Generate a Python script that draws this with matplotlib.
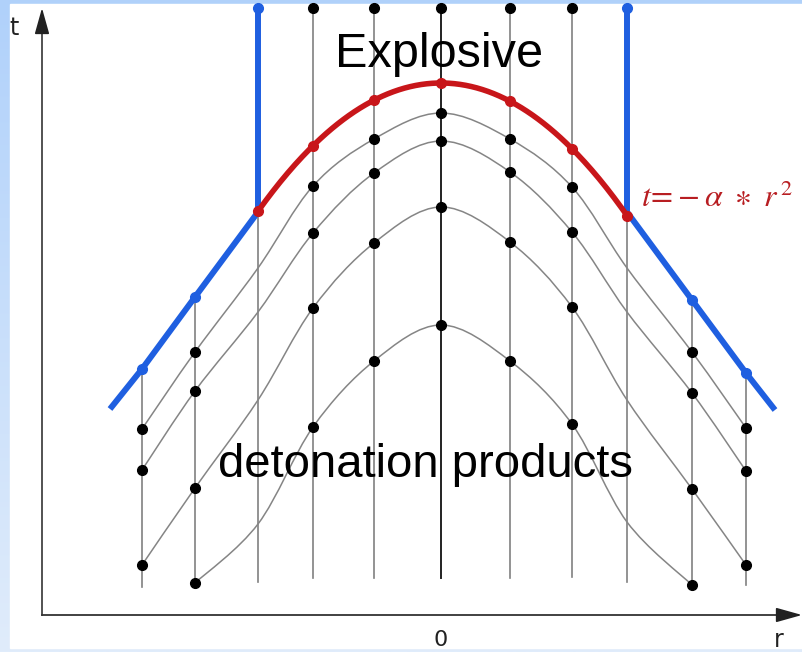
import numpy as np
import matplotlib
matplotlib.use("Agg")
import matplotlib.pyplot as plt
from matplotlib.path import Path
from matplotlib.patches import PathPatch, Rectangle

# column positions r of the Lagrangian mesh lines
r_cols = [-2.99, -2.46, -1.83, -1.28, -0.67, 0.0, 0.69, 1.31, 1.86, 2.51, 3.05]
# upper / lower end of every column line (t)
col_top = [2.46, 3.18, 4.03, 6.07, 6.07, 6.07, 6.07, 6.07, 4.03, 3.15, 2.42]
col_bottom = [0.28, 0.32, 0.33, 0.37, 0.37, 0.37, 0.37, 0.38, 0.33, 0.30, 0.30]

# characteristic layers inside the detonation products (t at each column)
nan = np.nan
layer1 = [1.86, 2.63, 3.47, 4.29, 4.76, 5.02, 4.76, 4.28, 3.47, 2.63, 1.87]
layer2 = [1.45, 2.24, 3.03, 3.82, 4.42, 4.74, 4.43, 3.83, 3.03, 2.22, 1.44]
layer3 = [0.50, 1.27, 2.15, 3.07, 3.72, 4.08, 3.73, 3.08, 2.15, 1.26, 0.50]
layer4 = [nan, 0.32, 0.91, 1.88, 2.54, 2.90, 2.54, 1.91, 0.93, 0.30, nan]
layers = [layer1, layer2, layer3, layer4]
junction_cols = [2, 8]

# shock front, left and right branches (r, t)
blue_left_r = [-3.31, -2.99, -2.46, -1.83, -1.83]
blue_left_t = [2.06, 2.46, 3.18, 4.03, 6.07]
blue_right_r = [3.34, 3.05, 2.51, 1.86, 1.86]
blue_right_t = [2.05, 2.42, 3.15, 4.03, 6.07]

# detonation front t = t0 - alpha * r^2
t0 = 5.32
alpha = 0.383

fig = plt.figure(figsize=(8.02, 6.52), dpi=100)

# light blue frame with a vertical gradient
bg = fig.add_axes([0, 0, 1, 1], zorder=0)
top_c = np.array([176, 209, 250]) / 255
bot_c = np.array([224, 236, 251]) / 255
k = np.linspace(0, 1, 256)[:, None, None]
grad = top_c * (1 - k) + bot_c * k
bg.imshow(grad, aspect="auto", extent=[0, 1, 0, 1])
bg.add_patch(Rectangle((10 / 802, 4 / 652), 1, 644 / 652, color="white"))
bg.set_xlim(0, 1)
bg.set_ylim(0, 1)
bg.axis("off")

ax = fig.add_axes([0, 0, 1, 1], zorder=1)
ax.patch.set_alpha(0)
ax.set_xlim(-4.41, 3.61)
ax.set_ylim(-0.37, 6.15)
ax.axis("off")


def smooth_path(r, t):
    pts = np.column_stack([r, t])
    verts = [pts[0]]
    codes = [Path.MOVETO]
    n = len(pts)
    for i in range(n - 1):
        p0 = pts[max(i - 1, 0)]
        p1 = pts[i]
        p2 = pts[i + 1]
        p3 = pts[min(i + 2, n - 1)]
        verts += [p1 + (p2 - p0) / 6, p2 - (p3 - p1) / 6, p2]
        codes += [Path.CURVE4] * 3
    return Path(verts, codes)


# axes with arrows
r_axis, r_end, t_end = -3.99, 3.61, 6.07
ax.plot([r_axis, r_axis], [0, t_end - 0.1], color="#444444", lw=1.3, zorder=2)
ax.plot([r_axis, r_end - 0.1], [0, 0], color="#333333", lw=1.3, zorder=2)
ax.annotate("", xy=(r_axis, t_end), xytext=(r_axis, t_end - 0.2),
            arrowprops=dict(arrowstyle="-|>,head_length=1.0,head_width=0.28",
                            color="#222222", lw=1.2, shrinkA=0, shrinkB=0,
                            mutation_scale=16))
ax.annotate("", xy=(r_end, 0), xytext=(r_end - 0.2, 0),
            arrowprops=dict(arrowstyle="-|>,head_length=1.0,head_width=0.28",
                            color="#222222", lw=1.2, shrinkA=0, shrinkB=0,
                            mutation_scale=16))

# column lines
for i, r in enumerate(r_cols):
    c = "#222222" if r == 0 else "#808080"
    ax.plot([r, r], [col_bottom[i], col_top[i]], color=c,
            lw=1.4 if r == 0 else 1.2, zorder=3)

# layers
for lay in layers:
    rr = [r for r, t in zip(r_cols, lay) if not np.isnan(t)]
    tt = [t for t in lay if not np.isnan(t)]
    ax.add_patch(PathPatch(smooth_path(rr, tt), facecolor="none",
                           edgecolor="#858585", lw=1.1, zorder=3))

# shock front
for rr, tt in [(blue_left_r, blue_left_t), (blue_right_r, blue_right_t)]:
    ax.plot(rr, tt, color="#1f5fe0", lw=4.3, solid_capstyle="butt", zorder=5)
    ax.plot([rr[1], rr[2], rr[4]], [tt[1], tt[2], tt[4]], "o",
            color="#1f5fe0", ms=7, zorder=6)

# detonation front
r_red = np.linspace(r_cols[2], r_cols[8], 200)
ax.plot(r_red, t0 - alpha * r_red ** 2, color="#c8161a", lw=4.0, zorder=5)
r_red_pts = np.array(r_cols[2:9])
ax.plot(r_red_pts, t0 - alpha * r_red_pts ** 2, "o", color="#c8161a",
        ms=7, zorder=6)

# mesh nodes
for lay in layers:
    for i, (r, t) in enumerate(zip(r_cols, lay)):
        if i in junction_cols or np.isnan(t):
            continue
        ax.plot(r, t, "o", color="black", ms=7, zorder=7)
for i in range(3, 8):
    ax.plot(r_cols[i], col_top[i], "o", color="black", ms=7, zorder=7)

# text
sans = ["Liberation Sans", "DejaVu Sans"]
ax.text(-0.02, 5.48, "Explosive", fontsize=35, family=sans, ha="center",
        va="baseline", zorder=8)
ax.text(-0.15, 1.38, "detonation products", fontsize=34, family=sans,
        ha="center", va="baseline", zorder=8)
ax.text(2.00, 4.08, r"$t\!=\!-\alpha\ \ast\ r^{\,2}$", fontsize=23,
        color="#b81e22", ha="left", va="baseline", math_fontfamily="stix",
        zorder=8)
ax.text(-4.27, 5.80, "t", fontsize=17, family=["DejaVu Sans"], ha="center",
        va="baseline", color="#222222")
ax.text(3.38, -0.32, "r", fontsize=17, family=["DejaVu Sans"], ha="center",
        va="baseline", color="#222222")
ax.text(0.0, -0.31, "0", fontsize=16, family=["DejaVu Sans"], ha="center",
        va="baseline", color="#222222")

fig.savefig("out.png", dpi=100)
